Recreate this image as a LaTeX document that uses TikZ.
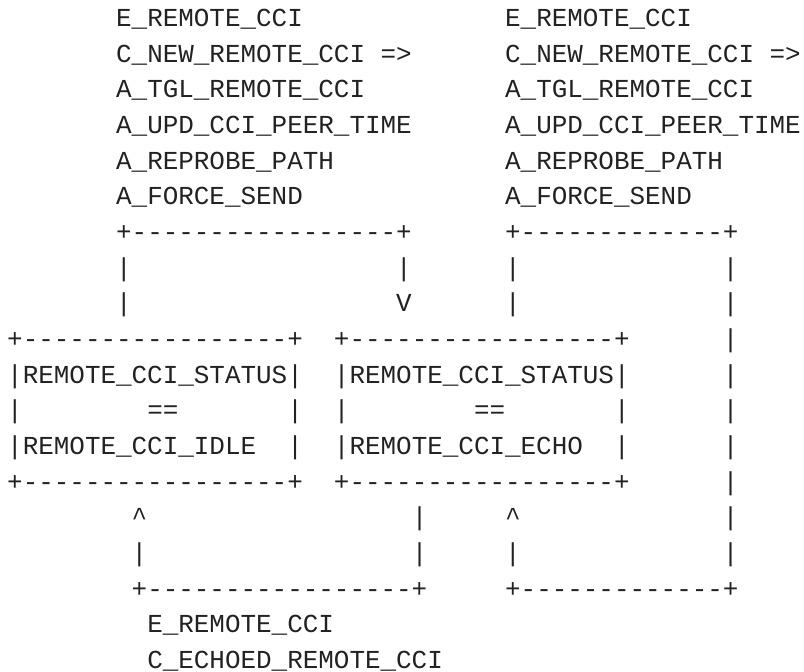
\documentclass[tikz,border=0pt]{standalone}
\usepackage{fontspec}
\setmonofont{Liberation Mono}
\definecolor{ink}{HTML}{222222}
\newcount\dashcnt
% a run of #1 hyphens, kept apart so no ligature forms
\newcommand\dashrun[1]{\dashcnt=#1\relax
  \loop -\kern0pt\advance\dashcnt by -1\relax\ifnum\dashcnt>0 \repeat}
\tikzset{
  ascii/.style={anchor=base west, inner sep=0pt, outer sep=0pt, text=ink,
    font=\ttfamily\fontsize{25.93pt}{35.67pt}\selectfont}
}
\begin{document}
% one unit in x is one character cell, one unit in y is one text line
\begin{tikzpicture}[x=15.56pt, y=-35.67pt]
\useasboundingbox (-0.464,-0.743) rectangle (51.207,18.096);

% event / condition / action lists at the top
\node[ascii] (evL) at (7,0) {E\_REMOTE\_CCI};
\node[ascii] (evR) at (32,0) {E\_REMOTE\_CCI};
\node[ascii] (cnL) at (7,1) {C\_NEW\_REMOTE\_CCI =>};
\node[ascii] (cnR) at (32,1) {C\_NEW\_REMOTE\_CCI =>};
\node[ascii] (a1L) at (7,2) {A\_TGL\_REMOTE\_CCI};
\node[ascii] (a1R) at (32,2) {A\_TGL\_REMOTE\_CCI};
\node[ascii] (a2L) at (7,3) {A\_UPD\_CCI\_PEER\_TIME};
\node[ascii] (a2R) at (32,3) {A\_UPD\_CCI\_PEER\_TIME};
\node[ascii] (a3L) at (7,4) {A\_REPROBE\_PATH};
\node[ascii] (a3R) at (32,4) {A\_REPROBE\_PATH};
\node[ascii] (a4L) at (7,5) {A\_FORCE\_SEND};
\node[ascii] (a4R) at (32,5) {A\_FORCE\_SEND};

% upper transition lines
\node[ascii] (tlL) at (7,6) {+\dashrun{17}+};
\node[ascii] (tlR) at (32,6) {+\dashrun{13}+};
\node[ascii] (v7a) at (7,7) {|};
\node[ascii] (v25a) at (25,7) {|};
\node[ascii] (v32a) at (32,7) {|};
\node[ascii] (v46a) at (46,7) {|};
\node[ascii] (v7b) at (7,8) {|};
\node[ascii] (arrV) at (25,8) {V};
\node[ascii] (v32b) at (32,8) {|};
\node[ascii] (v46b) at (46,8) {|};

% state boxes
\node[ascii] (idT) at (0,9) {+\dashrun{17}+};
\node[ascii] (ecT) at (21,9) {+\dashrun{17}+};
\node[ascii] (v46c) at (46,9) {|};
\node[ascii] (idS) at (0,10) {|REMOTE\_CCI\_STATUS|};
\node[ascii] (ecS) at (21,10) {|REMOTE\_CCI\_STATUS|};
\node[ascii] (v46d) at (46,10) {|};
\node[ascii] (idL) at (0,11) {|};
\node[ascii] (idEq) at (9,11) {==};
\node[ascii] (idR) at (18,11) {|};
\node[ascii] (ecL) at (21,11) {|};
\node[ascii] (ecEq) at (30,11) {==};
\node[ascii] (ecR) at (39,11) {|};
\node[ascii] (v46e) at (46,11) {|};
\node[ascii] (idV) at (0,12) {|REMOTE\_CCI\_IDLE};
\node[ascii] (idR2) at (18,12) {|};
\node[ascii] (ecV) at (21,12) {|REMOTE\_CCI\_ECHO};
\node[ascii] (ecR2) at (39,12) {|};
\node[ascii] (v46f) at (46,12) {|};
\node[ascii] (idB) at (0,13) {+\dashrun{17}+};
\node[ascii] (ecB) at (21,13) {+\dashrun{17}+};
\node[ascii] (v46g) at (46,13) {|};

% lower transition lines
\node[ascii] (arrL) at (8,14) {\^{}};
\node[ascii] (v26a) at (26,14) {|};
\node[ascii] (arrR) at (32,14) {\^{}};
\node[ascii] (v46h) at (46,14) {|};
\node[ascii] (v8b) at (8,15) {|};
\node[ascii] (v26b) at (26,15) {|};
\node[ascii] (v32c) at (32,15) {|};
\node[ascii] (v46i) at (46,15) {|};
\node[ascii] (blL) at (8,16) {+\dashrun{17}+};
\node[ascii] (blR) at (32,16) {+\dashrun{13}+};

% event / condition at the bottom
\node[ascii] (evB) at (9,17) {E\_REMOTE\_CCI};
\node[ascii] (cnB) at (9,18) {C\_ECHOED\_REMOTE\_CCI};
\end{tikzpicture}
\end{document}
